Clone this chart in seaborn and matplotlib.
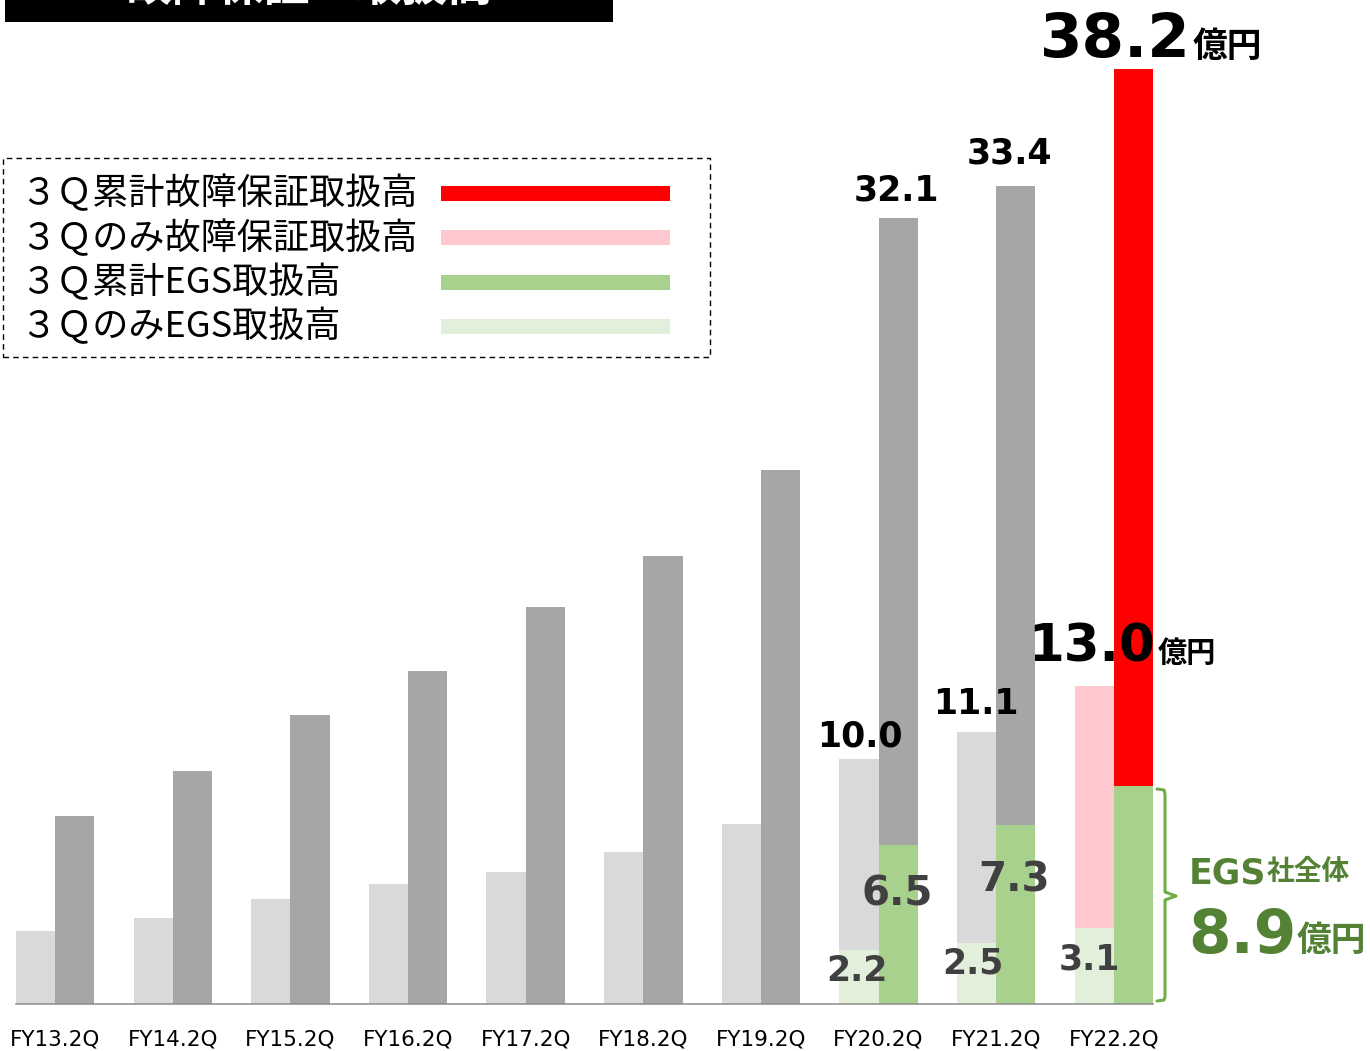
import matplotlib
matplotlib.use('Agg')
import matplotlib.pyplot as plt
from matplotlib.patches import Rectangle
from matplotlib.lines import Line2D
import seaborn as sns
import pandas as pd

# ---------------- data ----------------
categories = ['FY13.2Q', 'FY14.2Q', 'FY15.2Q', 'FY16.2Q', 'FY17.2Q',
              'FY18.2Q', 'FY19.2Q', 'FY20.2Q', 'FY21.2Q', 'FY22.2Q']
q_only_total = [3.0, 3.5, 4.3, 4.9, 5.4, 6.2, 7.35, 10.0, 11.1, 13.0]
cumulative_total = [7.7, 9.5, 11.8, 13.6, 16.2, 18.3, 21.8, 32.1, 33.4, 38.2]
q_only_egs = [0, 0, 0, 0, 0, 0, 0, 2.2, 2.5, 3.1]
cumulative_egs = [0, 0, 0, 0, 0, 0, 0, 6.5, 7.3, 8.9]
series_names = ['3Qのみ', '3Q累計']
legend_labels = ['３Ｑ累計故障保証取扱高', '３Ｑのみ故障保証取扱高',
                 '３Ｑ累計EGS取扱高', '３ＱのみEGS取扱高']
title_text = '故障保証　取扱高'
unit_text = '億円'
egs_total_label = 'EGS'
egs_total_suffix = '社全体'

# ---------------- style ----------------
sns.set_style('white')
plt.rcParams['font.family'] = ['DejaVu Sans', 'Noto Sans CJK JP']
JP = ['Noto Sans CJK JP', 'DejaVu Sans']

W, H = 1370, 1051
fig = plt.figure(figsize=(W / 100, H / 100), dpi=100)
PX_PER_UNIT = 24.48
ax = fig.add_axes([16 / W, 47 / H, 1137 / W, 1004 / H])

c_light_gray = '#d9d9d9'
c_dark_gray = '#a6a6a6'
c_pink = '#ffc7ce'
c_red = '#ff0000'
c_green = '#a9d18e'
c_light_green = '#e2efda'
c_text_gray = '#404040'
c_green_text = '#548235'
c_bracket = '#70ad47'

total_df = pd.DataFrame({
    'category': categories * 2,
    'series': [series_names[0]] * len(categories) + [series_names[1]] * len(categories),
    'value': q_only_total + cumulative_total,
})
egs_df = pd.DataFrame({
    'category': categories * 2,
    'series': [series_names[0]] * len(categories) + [series_names[1]] * len(categories),
    'value': q_only_egs + cumulative_egs,
})

sns.barplot(data=total_df, x='category', y='value', hue='series', order=categories,
            hue_order=series_names, palette=[c_light_gray, c_dark_gray], width=2 / 3,
            saturation=1, errorbar=None, legend=False, linewidth=0, ax=ax)
# highlight latest period
ax.containers[0][len(categories) - 1].set_facecolor(c_pink)
ax.containers[1][len(categories) - 1].set_facecolor(c_red)

sns.barplot(data=egs_df, x='category', y='value', hue='series', order=categories,
            hue_order=series_names, palette=[c_light_green, c_green], width=2 / 3,
            saturation=1, errorbar=None, legend=False, linewidth=0, ax=ax)

ax.set_xlim(-1 / 3, len(categories) - 1 + 1 / 3)
ax.set_ylim(0, 1004 / PX_PER_UNIT)
ax.set_xlabel('')
ax.set_ylabel('')
ax.set_yticks([])
for s in ['left', 'top', 'right']:
    ax.spines[s].set_visible(False)
ax.spines['bottom'].set_color('#8c8c8c')
ax.spines['bottom'].set_linewidth(1.1)
ax.set_xticks(range(len(categories)))
ax.set_xticklabels(categories)
minor = []
for i in range(len(categories)):
    minor += [i - 1 / 3, i + 1 / 3]
ax.set_xticks(minor, minor=True)
ax.tick_params(axis='x', which='both', length=4, width=1.1, color='#8c8c8c',
               direction='out', pad=14, labelsize=15.5, labelcolor='black')
ax.patch.set_alpha(0)


def lab(text, x, y, dx, dy, size, color, ha='center', family=None):
    ax.annotate(text, xy=(x, y), xytext=(dx, dy), textcoords='offset pixels',
                ha=ha, va='baseline', fontsize=size, fontweight='bold', color=color,
                family=family if family else ['DejaVu Sans'], zorder=10,
                annotation_clip=False)


i20, i21, i22 = 7, 8, 9
L, R = -1 / 6, 1 / 6
lab(f'{cumulative_total[i20]:.1f}', i20 + R, cumulative_total[i20], -2, 18, 25, 'black')
lab(f'{cumulative_total[i21]:.1f}', i21 + R, cumulative_total[i21], -6, 23, 25, 'black')
lab(f'{q_only_total[i20]:.1f}', i20 + L, q_only_total[i20], 1, 13, 25, 'black')
lab(f'{q_only_total[i21]:.1f}', i21 + L, q_only_total[i21], -1, 18, 25, 'black')
lab(f'{q_only_total[i22]:.1f}', i22 + L, q_only_total[i22], 61, 24, 37, 'black', ha='right')
lab(unit_text, i22 + L, q_only_total[i22], 63, 24, 21, 'black', ha='left', family=JP)
lab(f'{cumulative_total[i22]:.1f}', i22 + R, cumulative_total[i22], 57, 12, 44, 'black', ha='right')
lab(unit_text, i22 + R, cumulative_total[i22], 59, 12, 25, 'black', ha='left', family=JP)
lab(f'{cumulative_egs[i20]:.1f}', i20 + R, cumulative_egs[i20], -1, -61, 29, c_text_gray)
lab(f'{cumulative_egs[i21]:.1f}', i21 + R, cumulative_egs[i21], -2, -66, 29, c_text_gray)
lab(f'{q_only_egs[i20]:.1f}', i20 + L, q_only_egs[i20], -2, -31, 25, c_text_gray)
lab(f'{q_only_egs[i21]:.1f}', i21 + L, q_only_egs[i21], -4, -31, 25, c_text_gray)
lab(f'{q_only_egs[i22]:.1f}', i22 + L, q_only_egs[i22], -5, -41, 25, c_text_gray)


def P(x, y):
    return (x / W, 1 - y / H)


# EGS total annotation
fig.text(*P(1189, 883), egs_total_label, fontsize=25, fontweight='bold', color=c_green_text,
         ha='left', va='baseline', family=['DejaVu Sans'])
fig.text(*P(1267, 880), egs_total_suffix, fontsize=20, fontweight='bold', color=c_green_text,
         ha='left', va='baseline', family=JP)
fig.text(*P(1188, 953), f'{cumulative_egs[i22]:.1f}', fontsize=44, fontweight='bold',
         color=c_green_text, ha='left', va='baseline', family=['DejaVu Sans'])
fig.text(*P(1297, 951), unit_text, fontsize=25, fontweight='bold', color=c_green_text,
         ha='left', va='baseline', family=JP)
bx = [1157, 1164, 1165, 1165, 1176, 1165, 1165, 1164, 1157]
by = [789, 790, 794, 892, 896, 900, 997, 1000, 1001]
fig.add_artist(Line2D([x / W for x in bx], [1 - y / H for y in by], color=c_bracket,
                      lw=2.2, solid_joinstyle='round', transform=fig.transFigure))

# title bar (cut off at top, as in the source slide)
fig.add_artist(Rectangle(P(5, 22), 608 / W, 22 / H, transform=fig.transFigure,
                         facecolor='black', edgecolor='none'))
fig.text(*P(310, 1), title_text, fontsize=33, fontweight='bold', color='white',
         ha='center', va='baseline', family=JP)

# legend box
fig.add_artist(Rectangle(P(3, 357), 707 / W, 199 / H, transform=fig.transFigure,
                         facecolor='none', edgecolor='black', lw=1.0,
                         linestyle=(0, (4, 3))))
leg_colors = [c_red, c_pink, c_green, c_light_green]
row_y = [193, 238, 283, 327]
rect_y = [193, 237, 282, 326]
for txt, col, yy, ry in zip(legend_labels, leg_colors, row_y, rect_y):
    fig.text(*P(20, yy), txt, fontsize=26, color='black', ha='left', va='center',
             family=JP)
    fig.add_artist(Rectangle(P(441, ry + 8), 229 / W, 15 / H, transform=fig.transFigure,
                             facecolor=col, edgecolor='none'))

fig.savefig('out.png', dpi=100)
